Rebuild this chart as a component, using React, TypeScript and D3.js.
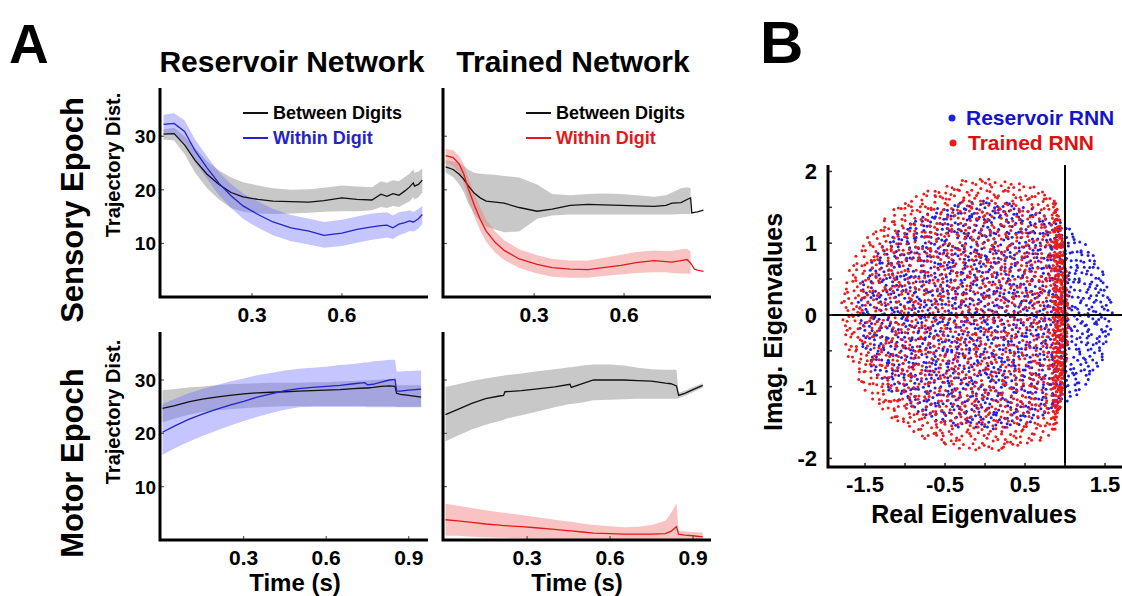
import React from 'react';
import * as d3 from 'd3';

const W = 1122;
const H = 596;
const FONT = '"Liberation Sans", Arial, sans-serif';

// ---------- Panel A: trajectory distances ----------
// Reservoir network, sensory epoch
const resSensT = [0.005, 0.04, 0.075, 0.11, 0.15, 0.19, 0.23, 0.27, 0.32, 0.37, 0.43, 0.49, 0.54, 0.6, 0.65, 0.7, 0.73, 0.75, 0.77, 0.79, 0.81, 0.825, 0.838, 0.842, 0.855, 0.868];
const resSensBetween = [30.4, 30.5, 28.4, 25.5, 22.9, 21.0, 19.5, 18.7, 18.2, 17.9, 17.8, 17.7, 18.0, 18.5, 18.2, 18.1, 19.2, 18.8, 19.3, 19.0, 19.8, 20.5, 21.3, 20.7, 21.0, 21.8];
const resSensBetweenLo = [29.4, 29.2, 26.7, 23.2, 20.3, 18.2, 16.6, 15.9, 15.6, 15.5, 15.6, 15.7, 15.9, 16.0, 16.0, 16.2, 16.8, 16.6, 17.0, 16.8, 17.4, 17.8, 18.6, 18.2, 18.6, 19.5];
const resSensBetweenHi = [31.3, 31.6, 30.0, 27.8, 25.3, 23.6, 22.3, 21.4, 20.8, 20.3, 20.0, 20.1, 20.4, 20.8, 20.6, 20.5, 21.6, 21.3, 21.8, 21.6, 22.4, 23.0, 23.8, 23.2, 23.4, 24.0];
const resSensWithin = [32.2, 32.4, 30.9, 27.3, 24.1, 21.2, 18.9, 17.0, 15.4, 14.0, 12.9, 12.3, 11.5, 11.9, 12.6, 13.1, 13.3, 13.4, 12.9, 13.6, 13.9, 14.2, 14.0, 14.1, 14.6, 15.4];
const resSensWithinLo = [30.3, 30.4, 28.8, 25.2, 22.0, 19.0, 16.6, 14.6, 12.9, 11.5, 10.4, 9.8, 9.2, 9.5, 10.1, 10.7, 10.9, 11.1, 10.8, 11.5, 11.9, 12.3, 12.2, 12.3, 12.8, 13.6];
const resSensWithinHi = [34.0, 34.3, 33.0, 29.4, 26.2, 23.3, 21.1, 19.3, 17.8, 16.4, 15.3, 14.6, 14.0, 14.4, 15.0, 15.6, 15.7, 15.8, 15.2, 15.8, 16.0, 16.2, 15.9, 16.0, 16.4, 17.0];

// Trained network, sensory epoch
const trSensT = [0.005, 0.03, 0.05, 0.065, 0.08, 0.1, 0.12, 0.14, 0.17, 0.2, 0.25, 0.31, 0.36, 0.42, 0.48, 0.53, 0.59, 0.64, 0.7, 0.74, 0.76, 0.79, 0.81, 0.822, 0.826, 0.835, 0.845, 0.865];
const trSensBetween = [24.3, 23.8, 22.9, 22.0, 20.8, 19.4, 18.5, 17.9, 17.7, 17.5, 16.7, 16.0, 16.4, 17.1, 17.3, 17.2, 17.1, 17.0, 16.9, 17.1, 17.5, 17.6, 18.2, 18.5, 15.7, 15.8, 15.9, 16.2];
const trSensBetweenLo = [23.2, 22.4, 21.0, 19.6, 17.5, 15.5, 14.2, 13.2, 12.6, 12.1, 12.2, 14.6, 15.2, 15.4, 15.4, 15.4, 15.4, 15.4, 15.4, 15.4, 15.4, 15.5, 15.5, 15.5, NaN, NaN, NaN, NaN];
const trSensBetweenHi = [25.5, 25.3, 25.0, 24.5, 23.8, 23.2, 23.0, 22.9, 22.8, 22.6, 22.3, 21.0, 19.2, 19.0, 19.2, 19.3, 19.2, 19.0, 18.7, 19.0, 19.5, 20.3, 20.5, 20.3, NaN, NaN, NaN, NaN];
const trSensWithin = [26.4, 26.0, 24.8, 23.0, 20.3, 17.2, 14.5, 12.3, 10.2, 8.7, 7.1, 6.1, 5.5, 5.2, 5.1, 5.5, 5.9, 6.4, 6.8, 6.6, 6.5, 6.8, 7.0, 6.3, 6.0, 5.2, 5.0, 4.8];
const trSensWithinLo = [25.0, 24.5, 23.2, 21.2, 18.3, 15.1, 12.4, 10.3, 8.3, 6.9, 5.4, 4.4, 3.8, 3.6, 3.6, 3.9, 4.2, 4.5, 4.6, 4.6, 4.5, 4.4, 4.4, 4.3, NaN, NaN, NaN, NaN];
const trSensWithinHi = [27.6, 27.4, 26.3, 24.8, 22.3, 19.4, 16.7, 14.4, 12.2, 10.6, 8.9, 7.8, 7.1, 6.8, 6.8, 7.3, 7.9, 8.4, 8.7, 8.6, 8.6, 8.9, 9.0, 8.5, NaN, NaN, NaN, NaN];

// Reservoir network, motor epoch
const resMotT = [0.005, 0.05, 0.1, 0.15, 0.2, 0.25, 0.3, 0.35, 0.4, 0.45, 0.5, 0.55, 0.6, 0.65, 0.7, 0.74, 0.75, 0.77, 0.8, 0.83, 0.85, 0.856, 0.87, 0.9, 0.945];
const resMotBetween = [24.7, 25.2, 25.9, 26.4, 26.8, 27.1, 27.4, 27.6, 27.7, 27.8, 27.9, 28.0, 28.1, 28.2, 28.4, 28.5, 28.5, 28.6, 28.8, 28.9, 28.8, 27.5, 27.3, 27.1, 26.8];
const resMotBetweenLo = [22.1, 22.8, 23.5, 24.0, 24.3, 24.5, 24.7, 24.9, 25.0, 25.1, 25.1, 25.1, 25.1, 25.1, 25.1, 25.1, 25.1, 25.1, 25.1, 25.1, 25.1, 24.9, 24.9, 24.9, 24.9];
const resMotBetweenHi = [28.1, 28.3, 28.6, 28.8, 29.0, 29.2, 29.3, 29.4, 29.5, 29.5, 29.5, 29.6, 29.6, 29.7, 29.8, 29.9, 29.9, 30.0, 30.1, 30.2, 30.2, 29.0, 29.0, 29.0, 29.0];
const resMotWithin = [20.2, 21.4, 22.6, 23.6, 24.5, 25.3, 26.0, 26.8, 27.4, 28.0, 28.4, 28.6, 28.8, 29.0, 29.3, 29.5, 29.1, 29.2, 29.6, 30.0, 30.1, 27.9, 27.9, 28.1, 28.3];
const resMotWithinLo = [16.0, 17.2, 18.4, 19.5, 20.5, 21.4, 22.3, 23.1, 23.8, 24.4, 24.9, 25.0, 25.0, 25.0, 25.0, 25.0, 24.9, 24.9, 24.9, 24.9, 24.9, 25.0, 25.0, 25.0, 25.0];
const resMotWithinHi = [25.5, 26.5, 27.5, 28.3, 29.0, 29.7, 30.3, 30.9, 31.3, 31.8, 32.1, 32.3, 32.5, 32.8, 33.0, 33.3, 33.3, 33.5, 33.6, 33.8, 33.8, 31.6, 31.6, 31.7, 31.8];

// Trained network, motor epoch
const trMotT = [0.005, 0.05, 0.1, 0.15, 0.2, 0.215, 0.22, 0.28, 0.33, 0.4, 0.455, 0.46, 0.5, 0.54, 0.6, 0.65, 0.7, 0.75, 0.8, 0.82, 0.84, 0.848, 0.87, 0.9, 0.935];
const trMotBetween = [23.5, 24.5, 25.6, 26.5, 27.0, 27.1, 27.8, 28.0, 28.3, 28.7, 29.2, 28.6, 29.3, 30.0, 30.0, 30.0, 29.9, 29.8, 29.4, 29.3, 28.9, 27.1, 27.5, 28.2, 29.0];
const trMotBetweenLo = [18.5, 19.6, 20.7, 21.6, 22.3, 22.5, 22.7, 23.4, 24.0, 24.9, 25.5, 25.5, 25.8, 26.2, 26.3, 26.4, 26.5, 26.5, 26.5, 26.5, 26.5, 26.6, 27.0, 27.7, 28.6];
const trMotBetweenHi = [28.7, 29.2, 29.8, 30.3, 30.7, 30.8, 30.9, 31.2, 31.6, 32.0, 32.4, 32.4, 32.7, 32.9, 32.9, 32.7, 32.3, 32.0, 31.9, 31.9, 31.9, 27.6, 28.0, 28.7, 29.4];
const trMotWithin = [3.8, 3.6, 3.3, 3.0, 2.8, 2.7, 2.7, 2.5, 2.3, 2.0, 1.7, 1.7, 1.5, 1.3, 1.2, 1.1, 1.1, 1.1, 1.2, 1.6, 2.5, 1.1, 0.9, 0.8, 0.6];
const trMotWithinLo = [0.8, 0.8, 0.6, 0.5, 0.4, 0.4, 0.4, 0.3, 0.3, 0.2, 0.2, 0.2, 0.1, 0.1, 0.1, 0.1, 0.1, 0.1, 0.1, 0.1, 0.1, 0.2, 0.2, 0.1, 0.1];
const trMotWithinHi = [6.8, 6.4, 6.0, 5.6, 5.2, 5.1, 5.1, 4.7, 4.3, 3.8, 3.4, 3.4, 3.1, 2.8, 2.6, 2.4, 2.5, 2.8, 3.6, 5.0, 6.9, 1.8, 1.6, 1.5, 1.4];

const yTicksA = [10, 20, 30];
const sensXTicks = [0.3, 0.6];
const motXTicks = [0.3, 0.6, 0.9];

// ---------- Panel B: eigenvalue clouds (extent) ----------
// [centerRe, centerIm, radiusRe, radiusIm, count]
const reservoirCloud = [0, 0, 1.6, 1.6, 1700];
const trainedCloud = [0, 0, 1.8, 1.9, 2000];
const trainedPileUp = [0.85, 0.2]; // real part where trained eigenvalues pile up, squeeze factor
const eigYTicks = [2, 1, 0, -1, -2];
const eigXTickLabels = [-1.5, -0.5, 0.5, 1.5];
const eigMinorTicks = [-2, -1.5, -1, -0.5, 0, 0.5, 1, 1.5, 2];

function halton(i: number, b: number) {
  let f = 1, r = 0;
  while (i > 0) { f /= b; r += f * (i % b); i = Math.floor(i / b); }
  return r;
}

function cloud(params: number[], offset: number) {
  const [cx, cy, rx, ry, n] = params;
  const pts: [number, number][] = [];
  for (let k = 1; k <= n; k++) {
    const r = Math.sqrt(halton(k + offset, 2));
    const a = 2 * Math.PI * halton(k + offset, 3);
    pts.push([cx + rx * r * Math.cos(a), cy + ry * r * Math.sin(a)]);
  }
  return pts;
}

const blueCol = '#1f1fe6';
const redCol = '#ea1c1c';

type PanelProps = {
  x0: number; x1: number; y0: number; y1: number;
  tDomain: [number, number]; xTicks: number[]; yLabels: boolean;
  time: number[];
  between: number[]; betweenLo: number[]; betweenHi: number[];
  within: number[]; withinLo: number[]; withinHi: number[];
  color: string; band: string; bandOpacity: number;
  legend?: boolean;
};

function TracePanel(p: PanelProps) {
  const xs = d3.scaleLinear().domain(p.tDomain).range([p.x0, p.x1]);
  const ys = d3.scaleLinear().domain([0, 39]).range([p.y1, p.y0]);
  const idx = d3.range(p.time.length);
  const area = (lo: number[], hi: number[]) =>
    d3.area<number>()
      .defined(i => !isNaN(lo[i]) && !isNaN(hi[i]))
      .x(i => xs(p.time[i]))
      .y0(i => ys(lo[i]))
      .y1(i => ys(hi[i]))(idx) || '';
  const line = (v: number[]) =>
    d3.line<number>().x(i => xs(p.time[i])).y(i => ys(v[i]))(idx) || '';
  return (
    <g>
      <path d={area(p.betweenLo, p.betweenHi)} fill="#9a9a9a" fillOpacity={0.55} />
      <path d={area(p.withinLo, p.withinHi)} fill={p.band} fillOpacity={p.bandOpacity} />
      <path d={line(p.between)} fill="none" stroke="#111" strokeWidth={1.3} />
      <path d={line(p.within)} fill="none" stroke={p.color} strokeWidth={1.3} />
      {yTicksA.map(v => (
        <g key={'y' + v}>
          <line x1={p.x0} x2={p.x0 + 4} y1={ys(v)} y2={ys(v)} stroke="#444" strokeWidth={1} />
          {p.yLabels && (
            <text x={p.x0 - 4} y={ys(v) + 7} textAnchor="end" fontSize={19} fontWeight="bold">{v}</text>
          )}
        </g>
      ))}
      {p.xTicks.map(v => (
        <g key={'x' + v}>
          <line x1={xs(v)} x2={xs(v)} y1={p.y1} y2={p.y1 - 4} stroke="#444" strokeWidth={1} />
          <text x={xs(v)} y={p.y1 + 25} textAnchor="middle" fontSize={21} fontWeight="bold">{v.toFixed(1)}</text>
        </g>
      ))}
      <path d={`M${p.x0},${p.y0}V${p.y1}H${p.x1}`} fill="none" stroke="#000" strokeWidth={3} />
      {p.legend && (
        <g fontSize={18} fontWeight="bold">
          <line x1={p.x0 + 83} x2={p.x0 + 108} y1={113} y2={113} stroke="#111" strokeWidth={2} />
          <text x={p.x0 + 113} y={119}>Between Digits</text>
          <line x1={p.x0 + 83} x2={p.x0 + 108} y1={138} y2={138} stroke={p.color} strokeWidth={2} />
          <text x={p.x0 + 113} y={144} fill={p.color}>Within Digit</text>
        </g>
      )}
    </g>
  );
}

export default function App() {
  const xB = d3.scaleLinear().domain([-1.9625, 1.7125]).range([828, 1122]);
  const yB = d3.scaleLinear().domain([-2.12, 2.09]).range([467, 165]);
  const blue = cloud(reservoirCloud, 20);
  const red = cloud(trainedCloud, 5000).map(([re, im]) => {
    const [p, s] = trainedPileUp;
    return [re > p ? p + (re - p) * s : re, im] as [number, number];
  });

  const col1 = { x0: 160, x1: 428 };
  const col2 = { x0: 443, x1: 711 };
  const row1 = { y0: 88, y1: 297 };
  const row2 = { y0: 332, y1: 540 };

  return (
    <svg width={W} height={H} style={{ position: 'absolute', left: 0, top: 0, background: '#fff' }} fontFamily={FONT}>
      <rect width={W} height={H} fill="#fff" />
      {/* Panel letters and titles */}
      <text x={9} y={63} fontSize={55} fontWeight="bold">A</text>
      <text x={760} y={63} fontSize={60} fontWeight="bold">B</text>
      <text x={292} y={72} textAnchor="middle" fontSize={30} fontWeight="bold">Reservoir Network</text>
      <text x={573} y={72} textAnchor="middle" fontSize={30} fontWeight="bold">Trained Network</text>

      <text transform="translate(83,210) rotate(-90)" textAnchor="middle" fontSize={31} fontWeight="bold">Sensory Epoch</text>
      <text transform="translate(120,165) rotate(-90)" textAnchor="middle" fontSize={20} fontWeight="bold">Trajectory Dist.</text>
      <text transform="translate(83,463) rotate(-90)" textAnchor="middle" fontSize={31} fontWeight="bold">Motor Epoch</text>
      <text transform="translate(120,412) rotate(-90)" textAnchor="middle" fontSize={20} fontWeight="bold">Trajectory Dist.</text>

      <TracePanel {...col1} {...row1} tDomain={[-0.007, 0.887]} xTicks={sensXTicks} yLabels legend
        time={resSensT} between={resSensBetween} betweenLo={resSensBetweenLo} betweenHi={resSensBetweenHi}
        within={resSensWithin} withinLo={resSensWithinLo} withinHi={resSensWithinHi}
        color="#2323c8" band="#6f6fff" bandOpacity={0.4} />
      <TracePanel {...col2} {...row1} tDomain={[-0.004, 0.89]} xTicks={sensXTicks} yLabels={false} legend
        time={trSensT} between={trSensBetween} betweenLo={trSensBetweenLo} betweenHi={trSensBetweenHi}
        within={trSensWithin} withinLo={trSensWithinLo} withinHi={trSensWithinHi}
        color="#e01a1a" band="#f47a7a" bandOpacity={0.45} />
      <TracePanel {...col1} {...row2} tDomain={[-0.004, 0.97]} xTicks={motXTicks} yLabels
        time={resMotT} between={resMotBetween} betweenLo={resMotBetweenLo} betweenHi={resMotBetweenHi}
        within={resMotWithin} withinLo={resMotWithinLo} withinHi={resMotWithinHi}
        color="#2323c8" band="#6f6fff" bandOpacity={0.4} />
      <TracePanel {...col2} {...row2} tDomain={[-0.004, 0.965]} xTicks={motXTicks} yLabels={false}
        time={trMotT} between={trMotBetween} betweenLo={trMotBetweenLo} betweenHi={trMotBetweenHi}
        within={trMotWithin} withinLo={trMotWithinLo} withinHi={trMotWithinHi}
        color="#e01a1a" band="#f47a7a" bandOpacity={0.45} />

      <text x={295} y={591} textAnchor="middle" fontSize={24} fontWeight="bold">Time (s)</text>
      <text x={577} y={591} textAnchor="middle" fontSize={24} fontWeight="bold">Time (s)</text>

      {/* Panel B */}
      <g>
        {blue.map(([re, im], i) => (
          <circle key={'b' + i} cx={xB(re)} cy={yB(im)} r={1.5} fill={blueCol} />
        ))}
        {red.map(([re, im], i) => (
          <circle key={'r' + i} cx={xB(re)} cy={yB(im)} r={1.5} fill={redCol} />
        ))}
        <line x1={xB(1)} x2={xB(1)} y1={yB(2.09)} y2={yB(-2.12)} stroke="#000" strokeWidth={2} />
        <line x1={828} x2={1122} y1={yB(0)} y2={yB(0)} stroke="#000" strokeWidth={2} />
        {eigMinorTicks.map(v => (
          <line key={'ym' + v} x1={828} x2={832} y1={yB(v)} y2={yB(v)} stroke="#333" strokeWidth={1.5} />
        ))}
        {eigMinorTicks.filter(v => v > -1.9 && v < 1.7).map(v => (
          <line key={'xm' + v} x1={xB(v)} x2={xB(v)} y1={467} y2={463} stroke="#333" strokeWidth={1.5} />
        ))}
        <path d="M828,165V467H1122" fill="none" stroke="#000" strokeWidth={3} />
        {eigYTicks.map(v => (
          <text key={'yl' + v} x={817} y={yB(v) + 8} textAnchor="end" fontSize={22} fontWeight="bold">{v}</text>
        ))}
        {eigXTickLabels.map(v => (
          <text key={'xl' + v} x={xB(v)} y={492} textAnchor="middle" fontSize={22} fontWeight="bold">{v.toFixed(1)}</text>
        ))}
        <text x={974} y={523} textAnchor="middle" fontSize={25} fontWeight="bold">Real Eigenvalues</text>
        <text transform="translate(782,322) rotate(-90)" textAnchor="middle" fontSize={25} fontWeight="bold">Imag. Eigenvalues</text>
        <circle cx={952} cy={118} r={3.5} fill={blueCol} />
        <text x={966} y={125} fontSize={21} fontWeight="bold" fill="#1414cc">Reservoir RNN</text>
        <circle cx={953} cy={143} r={3.5} fill={redCol} />
        <text x={968} y={150} fontSize={21} fontWeight="bold" fill="#e01010">Trained RNN</text>
      </g>
    </svg>
  );
}
